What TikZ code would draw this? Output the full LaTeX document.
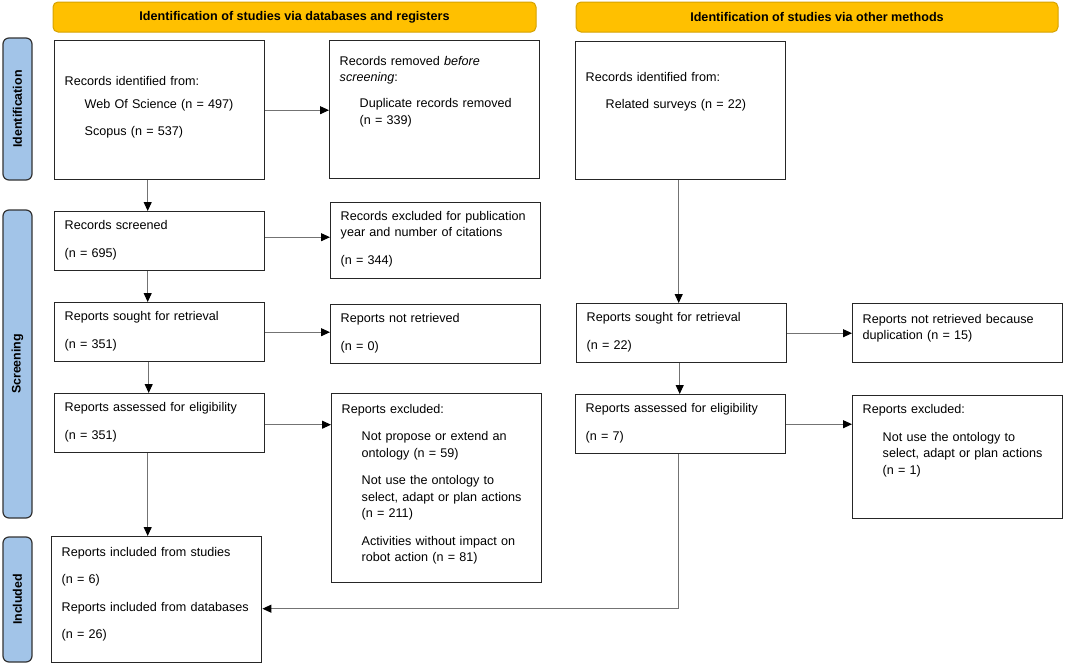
\documentclass[tikz,border=0pt]{standalone}
\usepackage{fontspec}
\setmainfont{Liberation Sans}
\usetikzlibrary{arrows.meta,calc,positioning}
\definecolor{hdrgold}{HTML}{FFC000}
\definecolor{hdrline}{HTML}{D6A200}
\definecolor{tabblue}{HTML}{A2C4E8}
\newcommand{\ind}{\hspace*{20pt}}
\begin{document}
\begin{tikzpicture}[x=1pt, y=-1pt,
header/.style={draw=hdrline, fill=hdrgold, line width=1pt, rounded corners=5pt, minimum height=30pt, font=\bfseries\fontsize{12.6}{15}\selectfont},
phase/.style={draw=black!80, fill=tabblue, line width=1.2pt, rounded corners=6pt, rotate=90, minimum height=29pt, font=\bfseries\fontsize{12.4}{15}\selectfont},
box/.style={draw=black!85, line width=1.4pt, anchor=north west, inner ysep=0pt, inner xsep=10pt, text width=190pt, align=left, text height=18pt, text depth=41pt, font=\fontsize{12.6}{16.5}\selectfont},
arr/.style={draw=black!55, line width=1pt, -{Triangle[length=9pt,width=8pt,color=black]}}]
\useasboundingbox (0,0) rectangle (1065,664);
% headers and phases
\node (hdb) [header, minimum width=483pt] at (294.5,17) {Identification of studies via databases and registers};
\node (hoth) [header, minimum width=482pt] at (817,17) {Identification of studies via other methods};
\node (tid) [phase, minimum width=142pt] at (17.5,109) {Identification};
\node (tscr) [phase, minimum width=308pt] at (17.5,364) {Screening};
\node (tinc) [phase, minimum width=125pt] at (17.5,599.5) {Included};
% databases and registers
\node (ident) [box, text height=44.5pt, text depth=94.5pt] at (54,40) {Records identified from:\\[6.5pt]
	\ind Web Of Science (n = 497)\\[11pt]
	\ind Scopus (n = 537)};
\node (removed) [box, text height=24.5pt, text depth=113.5pt] at (329,40) {Records removed \textit{before}\\
	\textit{screening}:\\[9.5pt]
	\ind Duplicate records removed\\
	\ind (n = 339)};
\node (screened) [box] at (54,211) {Records screened\\[11pt] (n = 695)};
\node (excl) [box, text height=17.5pt, text depth=58.5pt] at (330,202) {Records excluded for publication\\
	year and number of citations\\[11pt]
	(n = 344)};
\node (sought) [box] at (54,302) {Reports sought for retrieval\\[11pt] (n = 351)};
\node (notret) [box] at (330,304) {Reports not retrieved\\[11pt] (n = 0)};
\node (assess) [box] at (54,393) {Reports assessed for eligibility\\[11pt] (n = 351)};
\node (rexcl) [box, text height=19.5pt, text depth=169.5pt] at (331,393) {Reports excluded:\\[11pt]
	\ind Not propose or extend an\\
	\ind ontology (n = 59)\\[11pt]
	\ind Not use the ontology to\\
	\ind select, adapt or plan actions\\
	\ind (n = 211)\\[11pt]
	\ind Activities without impact on\\
	\ind robot action (n = 81)};
\node (incl) [box, text height=19.5pt, text depth=106.5pt] at (51,536) {Reports included from studies\\[11pt]
	(n = 6)\\[11pt]
	Reports included from databases\\[11pt]
	(n = 26)};
% other methods
\node (oident) [box, text height=39.5pt, text depth=98.5pt] at (575,41) {Records identified from:\\[11pt]
	\ind Related surveys (n = 22)};
\node (osought) [box] at (576,303) {Reports sought for retrieval\\[11pt] (n = 22)};
\node (onotret) [box, text height=19.5pt, text depth=39.5pt] at (852,303) {Reports not retrieved because\\
	duplication (n = 15)};
\node (oassess) [box] at (575,394) {Reports assessed for eligibility\\[11pt] (n = 7)};
\node (orexcl) [box, text depth=105pt] at (852,395) {Reports excluded:\\[11pt]
	\ind Not use the ontology to\\
	\ind select, adapt or plan actions\\
	\ind (n = 1)};
% arrows
\draw[arr] (ident.east) -- (ident.east -| removed.west);
\draw[arr] ([xshift=-12pt]ident.south) -- ([xshift=-12pt]screened.north);
\draw[arr] ([yshift=4pt]screened.east) -- ([yshift=4pt]screened.east -| excl.west);
\draw[arr] ([xshift=-12pt]screened.south) -- ([xshift=-12pt]sought.north);
\draw[arr] (sought.east) -- (sought.east -| notret.west);
\draw[arr] ([xshift=-11pt]sought.south) -- ([xshift=-11pt]assess.north);
\draw[arr] ([yshift=-1.5pt]assess.east) -- ([yshift=-1.5pt]assess.east -| rexcl.west);
\draw[arr] ([xshift=-12pt]assess.south) -- ([xshift=-12pt]assess.south |- incl.north);
\draw[arr] ([xshift=-2pt]oident.south) -- ([xshift=-2pt]oident.south |- osought.north);
\draw[arr] (osought.east) -- (osought.east -| onotret.west);
\draw[arr] ([xshift=-2pt]osought.south) -- ([xshift=-2pt]osought.south |- oassess.north);
\draw[arr] (oassess.east) -- (oassess.east -| orexcl.west);
\draw[arr] ([xshift=-2pt]oassess.south) |- ([yshift=-9pt]incl.east);
\end{tikzpicture}
\end{document}
